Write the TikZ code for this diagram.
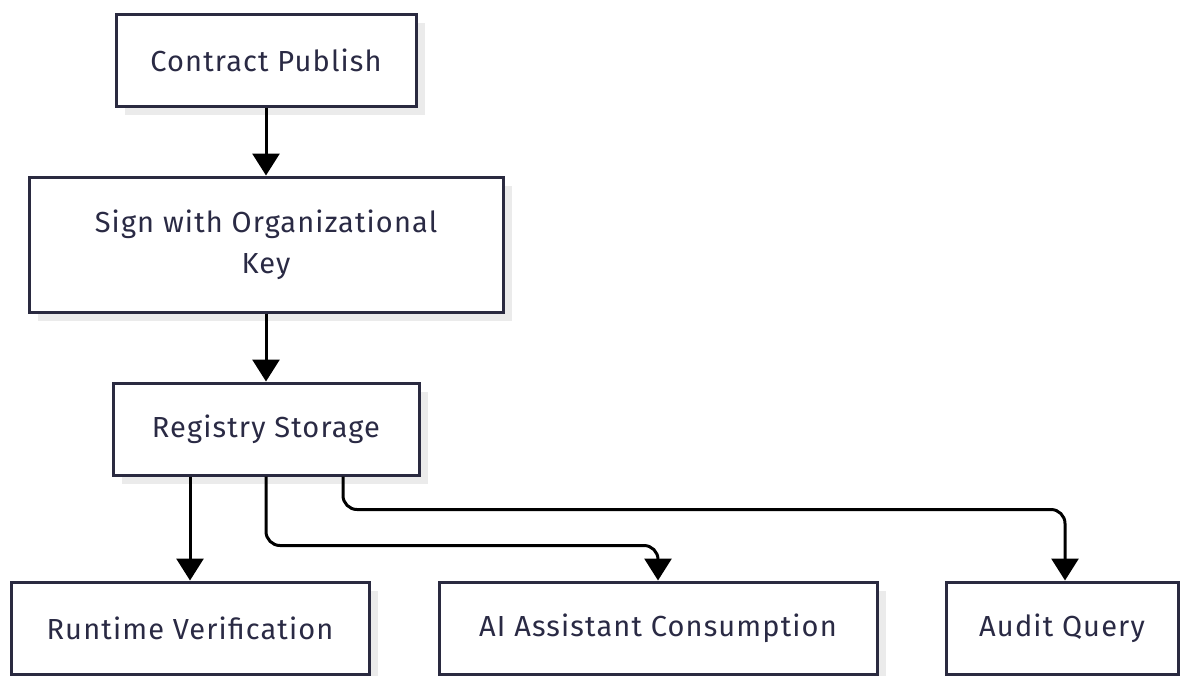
\documentclass[tikz,border=0pt]{standalone}
\usepackage{fontspec}
\setmainfont[LetterSpace=3.9]{Fira Sans}
\usetikzlibrary{arrows.meta,calc}
\definecolor{boxline}{HTML}{2A2A40}
\definecolor{boxtext}{HTML}{2A2A44}
\definecolor{shade}{HTML}{EBEBEB}
\tikzset{
  flowbox/.style={draw=boxline, line width=3pt, fill=white, text=boxtext,
    font=\fontsize{29}{41}\selectfont, align=center, inner sep=0pt},
  boxshadow/.style={fill=shade, draw=none},
  link/.style={draw=black, line width=3pt, rounded corners=14pt,
    -{Triangle[width=27pt,length=22pt]}}
}
% a boxed label with a soft offset shadow behind it
% #1 name, #2 center, #3 width, #4 height, #5 text
\newcommand{\shadowbox}[5]{%
  \fill[boxshadow] ($#2+(-#3/2+9,-#4/2+9)$) rectangle ($#2+(#3/2+9,#4/2+9)$);
  \node[flowbox, minimum width=#3pt, minimum height=#4pt] (#1) at #2 {#5};
}
\begin{document}
\begin{tikzpicture}[x=1pt,y=-1pt]
\useasboundingbox (0,0) rectangle (1180,675);
\shadowbox{cp}{(266,60)}{300}{92}{Contract Publish}
\shadowbox{sign}{(266,244.5)}{474}{135}{Sign with Organizational\\Key}
\shadowbox{reg}{(266,429)}{306}{92}{Registry Storage}
\shadowbox{rv}{(190,628)}{358}{92}{Runtime Verification}
\shadowbox{ai}{(658,628)}{438}{92}{AI Assistant Consumption}
\shadowbox{aq}{(1062,628)}{232}{92}{Audit Query}

\coordinate (aitop) at ($(ai.north)+(0,-35)$);
\coordinate (aqsrc) at ($(reg.south)+(77,0)$);
\coordinate (aqdst) at ($(aq.north)+(3,0)$);
\coordinate (aqtop) at ($(aqdst)+(0,-71)$);

\draw[link] (cp.south) -- (sign.north);
\draw[link] (sign.south) -- (reg.north);
\draw[link] (reg.south -| rv.north) -- (rv.north);
\draw[link] (reg.south) |- (aitop) -- (ai.north);
\draw[link] (aqsrc) |- (aqtop) -- (aqdst);
\end{tikzpicture}
\end{document}
